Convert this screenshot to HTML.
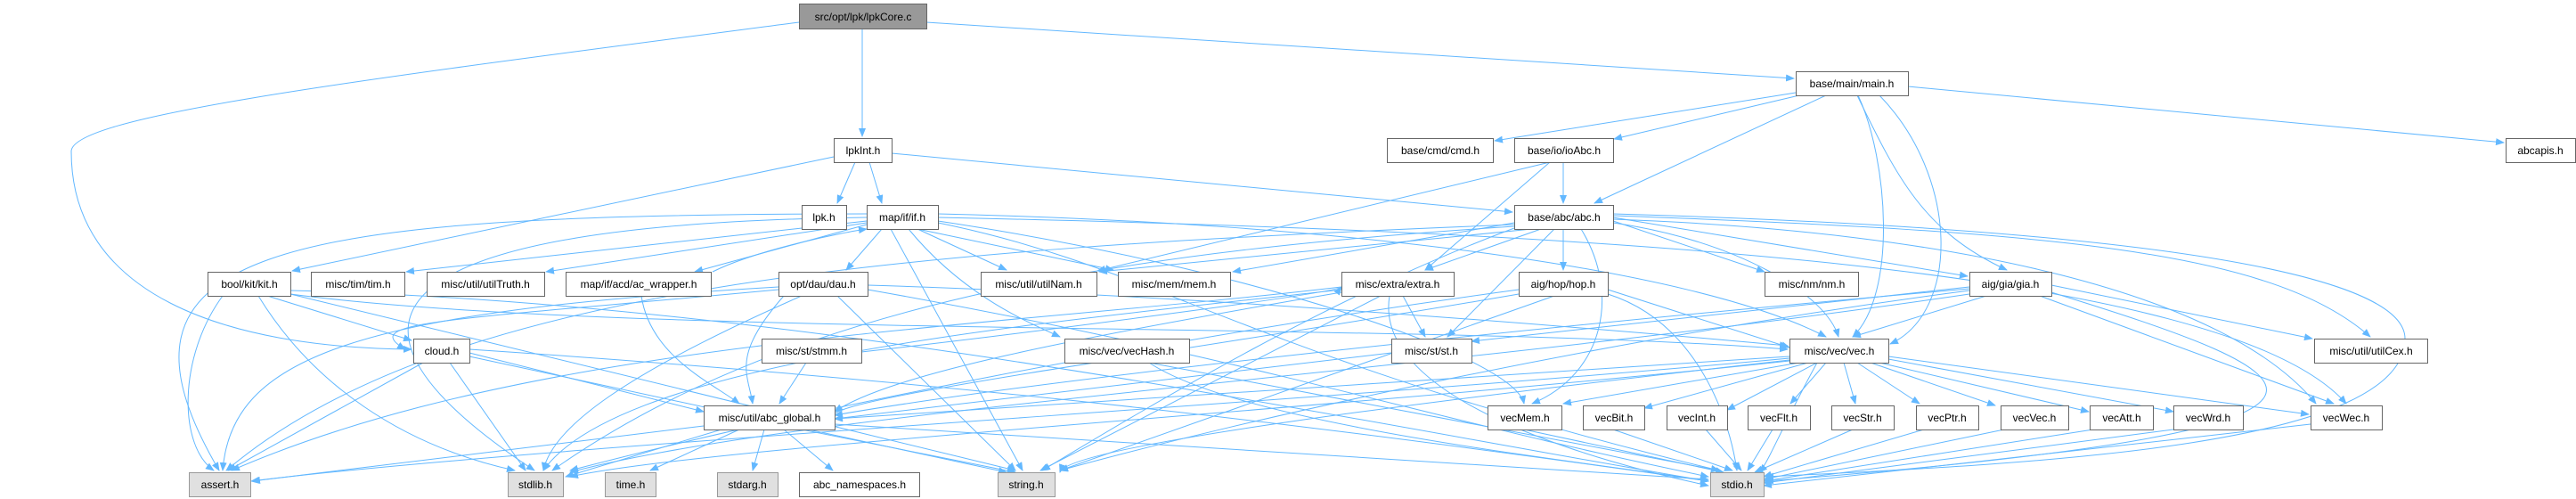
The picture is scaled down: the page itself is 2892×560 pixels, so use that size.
<!DOCTYPE html>
<html><head><meta charset="utf-8"><style>
html,body{margin:0;padding:0;background:#fff;}
svg{display:block;}
text{font-family:"Liberation Sans",sans-serif;font-size:12px;fill:#000;}
</style></head><body>
<svg width="2892" height="560" viewBox="0 0 2892 560" xmlns="http://www.w3.org/2000/svg">
<defs><marker id="a" markerWidth="10" markerHeight="8" refX="9" refY="4" orient="auto" markerUnits="userSpaceOnUse"><path d="M0,0 L10,4 L0,8 z" fill="#63b8ff"/></marker></defs>
<g fill="none" stroke="#63b8ff" stroke-width="1" marker-end="url(#a)">
<!-- top -->
<path d="M968,32 L968,153"/>
<path d="M897,25 C400,90 80,130 80,170 C80,330 250,390 462,392"/>
<path d="M1040,25 L2014,88"/>
<!-- main -->
<path d="M2016,104 L1678,158"/>
<path d="M2020,107 L1812,156"/>
<path d="M2050,107 L1790,228"/>
<path d="M2085,107 C2130,200 2160,260 2253,303"/>
<path d="M2086,107 C2120,180 2130,330 2080,378"/>
<path d="M2110,107 C2200,200 2200,350 2122,386"/>
<path d="M2142,97 L2811,160"/>
<!-- ioAbc -->
<path d="M1755,182 L1755,228"/>
<path d="M1740,182 L1232,304"/>
<path d="M1740,182 L1600,303"/>
<!-- lpkInt -->
<path d="M960,182 L940,228"/>
<path d="M976,182 L990,228"/>
<path d="M1001,172 L1698,238"/>
<path d="M936,176 L328,304"/>
<!-- if.h -->
<path d="M973,248 L456,305"/>
<path d="M973,250 L613,305"/>
<path d="M973,252 L780,305"/>
<path d="M990,257 L950,303"/>
<path d="M1030,257 L1130,303"/>
<path d="M1030,257 L1250,303"/>
<path d="M1020,257 C1080,330 1150,360 1190,378"/>
<path d="M1053,240 C1500,250 1900,300 2050,378"/>
<path d="M1053,244 C1800,260 2500,300 2634,453"/>
<path d="M1000,257 L1148,528"/>
<path d="M1053,250 C1300,300 1400,400 1930,528"/>
<path d="M973,244 C500,250 300,330 600,528"/>
<path d="M973,240 C300,240 100,280 246,528"/>
<path d="M1053,248 C1400,300 1700,400 1711,453"/>
<path d="M800,305 C850,280 950,260 973,257"/>
<!-- abc.h -->
<path d="M1700,250 L1384,305"/>
<path d="M1720,257 L1234,305"/>
<path d="M1730,257 L1600,303"/>
<path d="M1755,257 L1755,303"/>
<path d="M1811,248 L1981,305"/>
<path d="M1811,244 L2209,310"/>
<path d="M1745,257 L1625,378"/>
<path d="M1811,250 C1950,270 2050,330 2064,378"/>
<path d="M1811,242 C2300,260 2550,280 2661,378"/>
<path d="M1811,246 C2200,260 2500,330 2600,453"/>
<path d="M1811,240 C2500,260 2700,320 2700,380 C2700,500 2300,520 1982,535"/>
<path d="M1775,257 C1820,330 1800,420 1720,453"/>
<path d="M1700,254 C1300,280 900,330 620,528"/>
<path d="M1700,252 C1000,280 500,320 254,528"/>
<path d="M1700,256 C1500,330 1300,450 1170,528"/>
<!-- kit -->
<path d="M300,332 L462,382"/>
<path d="M326,330 C700,380 1600,360 2007,392"/>
<path d="M326,326 C900,340 1500,470 1918,540"/>
<path d="M250,332 C200,400 200,500 240,528"/>
<path d="M290,332 C350,430 450,500 578,528"/>
<path d="M326,330 L1140,528"/>
<!-- tim/utilTruth/acw -->
<path d="M720,332 C730,400 800,430 830,453"/>
<!-- dau -->
<path d="M874,325 C500,360 400,360 455,392"/>
<path d="M880,332 C820,400 840,420 845,453"/>
<path d="M974,320 C1300,330 1700,360 2007,388"/>
<path d="M874,322 C400,350 260,400 250,528"/>
<path d="M900,332 C700,420 620,480 610,528"/>
<path d="M974,325 C1400,400 1600,470 1918,535"/>
<path d="M940,332 L1140,528"/>
<!-- cloud -->
<path d="M527,396 L790,462"/>
<path d="M475,407 L256,528"/>
<path d="M505,407 L590,528"/>
<path d="M527,392 C1100,430 1500,480 1918,540"/>
<path d="M527,400 L1130,530"/>
<!-- stmm, st, vecHash -->
<path d="M905,407 L875,453"/>
<path d="M1562,396 L937,470"/>
<path d="M1290,407 C1400,480 1800,520 1918,540"/>
<path d="M967,395 C1100,380 1500,330 1506,322"/>
<!-- extra -->
<path d="M1575,332 L1600,378"/>
<path d="M1550,332 L1168,528"/>
<path d="M1560,332 C1540,450 1800,520 1918,545"/>
<path d="M1506,325 C1200,360 700,400 610,528"/>
<path d="M1506,322 C1100,370 600,380 260,528"/>
<path d="M1506,328 C1200,380 1000,420 937,462"/>
<!-- hop -->
<path d="M1805,325 L2009,390"/>
<path d="M1745,332 L1190,528"/>
<path d="M1805,330 C1900,360 1940,460 1950,528"/>
<path d="M1705,325 C1300,380 900,460 640,528"/>
<path d="M1705,330 C1300,400 900,450 937,470"/>
<!-- gia -->
<path d="M2230,332 L2080,378"/>
<path d="M2303,320 L2596,380"/>
<path d="M2290,332 L2620,453"/>
<path d="M2303,328 C2600,420 2750,480 1982,540"/>
<path d="M2211,322 L1652,383"/>
<path d="M2211,326 C1800,380 1400,470 1190,528"/>
<path d="M2211,330 C1600,420 900,460 640,530"/>
<path d="M2211,324 C1800,360 1200,420 937,466"/>
<!-- vec -->
<path d="M2020,407 L1755,453"/>
<path d="M2030,407 L1846,458"/>
<path d="M2040,407 L1939,460"/>
<path d="M2050,407 L2010,453"/>
<path d="M2070,407 L2083,453"/>
<path d="M2085,407 L2155,453"/>
<path d="M2100,407 L2240,455"/>
<path d="M2110,407 L2345,462"/>
<path d="M2120,403 L2440,462"/>
<path d="M2120,400 L2592,465"/>
<path d="M2009,400 L937,470"/>
<path d="M2009,404 C1600,450 1200,500 1190,530"/>
<path d="M2009,405 C1500,460 800,500 640,535"/>
<path d="M2009,402 C1500,450 600,500 282,540"/>
<path d="M2040,407 C2000,480 1985,520 1975,530"/>
<!-- vecX -> stdio -->
<path d="M1711,482 L1935,530"/>
<path d="M1811,482 L1945,528"/>
<path d="M1915,482 L1955,528"/>
<path d="M1990,482 L1962,528"/>
<path d="M2080,482 L1970,530"/>
<path d="M2160,482 L1980,535"/>
<path d="M2250,482 L1980,538"/>
<path d="M2350,482 L1980,540"/>
<path d="M2440,482 L1980,542"/>
<path d="M2594,476 L1980,545"/>
<path d="M1290,407 L1930,528"/>
<!-- abc_global -->
<path d="M790,478 L283,540"/>
<path d="M810,482 L635,535"/>
<path d="M830,482 L730,528"/>
<path d="M858,482 L845,528"/>
<path d="M880,482 L935,528"/>
<path d="M900,482 L1140,530"/>
<path d="M937,476 L1918,538"/>
</g>
<g stroke="#666" stroke-width="1">
<rect x="897.5" y="4.5" width="143" height="28" fill="#999"/>
<rect x="936.5" y="155.5" width="65" height="27" fill="#fff"/>
<rect x="2016.5" y="80.5" width="126" height="27" fill="#fff"/>
<rect x="1557.5" y="155.5" width="119" height="27" fill="#fff"/>
<rect x="1700.5" y="155.5" width="111" height="27" fill="#fff"/>
<rect x="2813.5" y="155.5" width="78" height="27" fill="#fff"/>
<rect x="900.5" y="230.5" width="50" height="27" fill="#fff"/>
<rect x="973.5" y="230.5" width="80" height="27" fill="#fff"/>
<rect x="1700.5" y="230.5" width="111" height="27" fill="#fff"/>
<rect x="233.5" y="305.5" width="93" height="27" fill="#fff"/>
<rect x="349.5" y="305.5" width="105" height="27" fill="#fff"/>
<rect x="479.5" y="305.5" width="132" height="27" fill="#fff"/>
<rect x="635.5" y="305.5" width="163" height="27" fill="#fff"/>
<rect x="874.5" y="305.5" width="100" height="27" fill="#fff"/>
<rect x="1101.5" y="305.5" width="130" height="27" fill="#fff"/>
<rect x="1255.5" y="305.5" width="126" height="27" fill="#fff"/>
<rect x="1506.5" y="305.5" width="126" height="27" fill="#fff"/>
<rect x="1705.5" y="305.5" width="100" height="27" fill="#fff"/>
<rect x="1981.5" y="305.5" width="105" height="27" fill="#fff"/>
<rect x="2211.5" y="305.5" width="92" height="27" fill="#fff"/>
<rect x="464.5" y="380.5" width="63" height="27" fill="#fff"/>
<rect x="855.5" y="380.5" width="112" height="27" fill="#fff"/>
<rect x="1195.5" y="380.5" width="140" height="27" fill="#fff"/>
<rect x="1562.5" y="380.5" width="90" height="27" fill="#fff"/>
<rect x="2009.5" y="380.5" width="111" height="27" fill="#fff"/>
<rect x="2598.5" y="380.5" width="127" height="27" fill="#fff"/>
<rect x="790.5" y="455.5" width="147" height="27" fill="#fff"/>
<rect x="1670.5" y="455.5" width="83" height="27" fill="#fff"/>
<rect x="1777.5" y="455.5" width="69" height="27" fill="#fff"/>
<rect x="1871.5" y="455.5" width="68" height="27" fill="#fff"/>
<rect x="1962.5" y="455.5" width="70" height="27" fill="#fff"/>
<rect x="2056.5" y="455.5" width="70" height="27" fill="#fff"/>
<rect x="2151.5" y="455.5" width="70" height="27" fill="#fff"/>
<rect x="2246.5" y="455.5" width="76" height="27" fill="#fff"/>
<rect x="2346.5" y="455.5" width="71" height="27" fill="#fff"/>
<rect x="2440.5" y="455.5" width="78" height="27" fill="#fff"/>
<rect x="2594.5" y="455.5" width="80" height="27" fill="#fff"/>
<rect x="212.5" y="530.5" width="69" height="27" fill="#e0e0e0" stroke="#999"/>
<rect x="570.5" y="530.5" width="62" height="27" fill="#e0e0e0" stroke="#999"/>
<rect x="679.5" y="530.5" width="57" height="27" fill="#e0e0e0" stroke="#999"/>
<rect x="805.5" y="530.5" width="68" height="27" fill="#e0e0e0" stroke="#999"/>
<rect x="897.5" y="530.5" width="135" height="27" fill="#fff"/>
<rect x="1120.5" y="530.5" width="64" height="27" fill="#e0e0e0" stroke="#999"/>
<rect x="1920.5" y="530.5" width="60" height="27" fill="#e0e0e0" stroke="#999"/>
</g>
<g text-anchor="middle">
<text x="969" y="23">src/opt/lpk/lpkCore.c</text>
<text x="969" y="173">lpkInt.h</text>
<text x="2079" y="98">base/main/main.h</text>
<text x="1617" y="173">base/cmd/cmd.h</text>
<text x="1756" y="173">base/io/ioAbc.h</text>
<text x="2852" y="173">abcapis.h</text>
<text x="925" y="248">lpk.h</text>
<text x="1013" y="248">map/if/if.h</text>
<text x="1756" y="248">base/abc/abc.h</text>
<text x="280" y="323">bool/kit/kit.h</text>
<text x="402" y="323">misc/tim/tim.h</text>
<text x="545" y="323">misc/util/utilTruth.h</text>
<text x="717" y="323">map/if/acd/ac_wrapper.h</text>
<text x="924" y="323">opt/dau/dau.h</text>
<text x="1166" y="323">misc/util/utilNam.h</text>
<text x="1318" y="323">misc/mem/mem.h</text>
<text x="1569" y="323">misc/extra/extra.h</text>
<text x="1755" y="323">aig/hop/hop.h</text>
<text x="2034" y="323">misc/nm/nm.h</text>
<text x="2257" y="323">aig/gia/gia.h</text>
<text x="496" y="398">cloud.h</text>
<text x="911" y="398">misc/st/stmm.h</text>
<text x="1265" y="398">misc/vec/vecHash.h</text>
<text x="1607" y="398">misc/st/st.h</text>
<text x="2065" y="398">misc/vec/vec.h</text>
<text x="2662" y="398">misc/util/utilCex.h</text>
<text x="864" y="473">misc/util/abc_global.h</text>
<text x="1712" y="473">vecMem.h</text>
<text x="1812" y="473">vecBit.h</text>
<text x="1905" y="473">vecInt.h</text>
<text x="1997" y="473">vecFlt.h</text>
<text x="2091" y="473">vecStr.h</text>
<text x="2186" y="473">vecPtr.h</text>
<text x="2284" y="473">vecVec.h</text>
<text x="2382" y="473">vecAtt.h</text>
<text x="2479" y="473">vecWrd.h</text>
<text x="2634" y="473">vecWec.h</text>
<text x="247" y="548">assert.h</text>
<text x="601" y="548">stdlib.h</text>
<text x="708" y="548">time.h</text>
<text x="839" y="548">stdarg.h</text>
<text x="965" y="548">abc_namespaces.h</text>
<text x="1152" y="548">string.h</text>
<text x="1950" y="548">stdio.h</text>
</g>
</svg>
</body></html>
